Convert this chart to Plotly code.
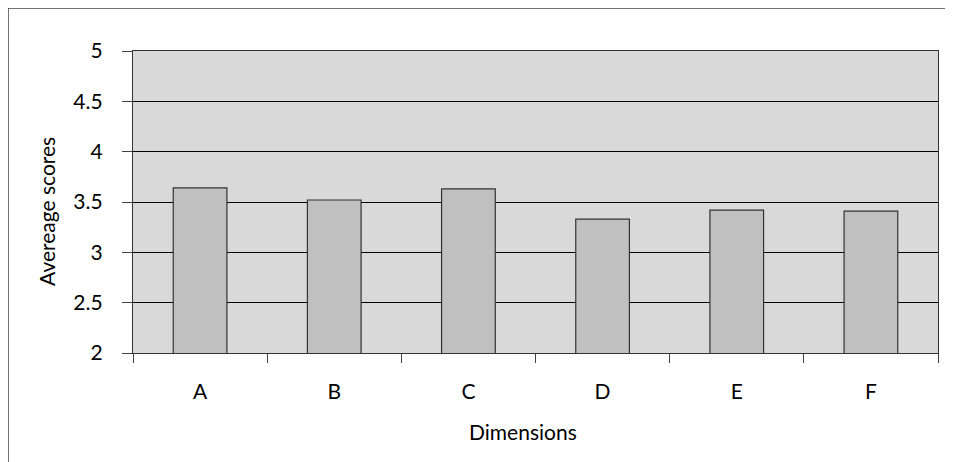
import plotly.graph_objects as go

categories = ["A", "B", "C", "D", "E", "F"]
scores = [3.64, 3.52, 3.63, 3.33, 3.42, 3.41]
y_ticks = [2, 2.5, 3, 3.5, 4, 4.5, 5]
y_tick_labels = ["2", "2.5", "3", "3.5", "4", "4.5", "5"]

FONT = "Lato, 'Open Sans', sans-serif"
FS = 21

# page body has an 8px margin; work in page coordinates minus 8
OFF = 8
W, H = 953 - OFF, 462 - OFF
L, T = 133 - OFF, 51 - OFF
R = 953 - 938
pw, ph = 938 - 133, 353 - 51
B = H - T - ph

def px(x):  # page x -> paper
    return (x - OFF - L) / pw

def py(y):  # page y -> paper
    return 1 - (y - OFF - T) / ph

fig = go.Figure()
fig.add_trace(go.Bar(
    x=categories, y=scores,
    marker=dict(color="#c0c0c0", line=dict(color="#333333", width=1.2)),
    width=0.4,
))

fig.update_layout(
    width=W, height=H,
    margin=dict(l=L, r=R, t=T, b=B),
    paper_bgcolor="white",
    plot_bgcolor="#d9d9d9",
    showlegend=False,
    font=dict(family=FONT, size=FS, color="black"),
    xaxis=dict(
        type="category",
        tickson="boundaries",
        ticks="outside", ticklen=9, tickcolor="#444", tickwidth=1,
        showline=True, linecolor="#333", linewidth=1.2, mirror=True,
        showgrid=False,
        ticklabelstandoff=20,
        tickfont=dict(size=FS),
    ),
    yaxis=dict(
        range=[2, 5],
        tickvals=y_ticks, ticktext=y_tick_labels,
        ticks="outside", ticklen=10, tickcolor="#444", tickwidth=1,
        showline=True, linecolor="#333", linewidth=1.2, mirror=True,
        showgrid=True, gridcolor="black", gridwidth=1.3,
        zeroline=False,
        ticklabelstandoff=15,
        tickfont=dict(size=FS),
    ),
    shapes=[dict(
        type="rect", xref="paper", yref="paper",
        x0=px(8), x1=px(990),
        y0=py(500), y1=py(8),
        line=dict(color="#444", width=1.5), fillcolor="rgba(0,0,0,0)",
        layer="below",
    )],
    annotations=[
        dict(text="Dimensions", xref="paper", yref="paper",
             x=px(523), y=py(432),
             showarrow=False, xanchor="center", yanchor="middle",
             font=dict(size=FS)),
        dict(text="Avereage scores", xref="paper", yref="paper",
             x=px(47), y=py(212),
             showarrow=False, xanchor="center", yanchor="middle",
             textangle=-90, font=dict(size=FS)),
    ],
)

fig.write_html("out.html")
